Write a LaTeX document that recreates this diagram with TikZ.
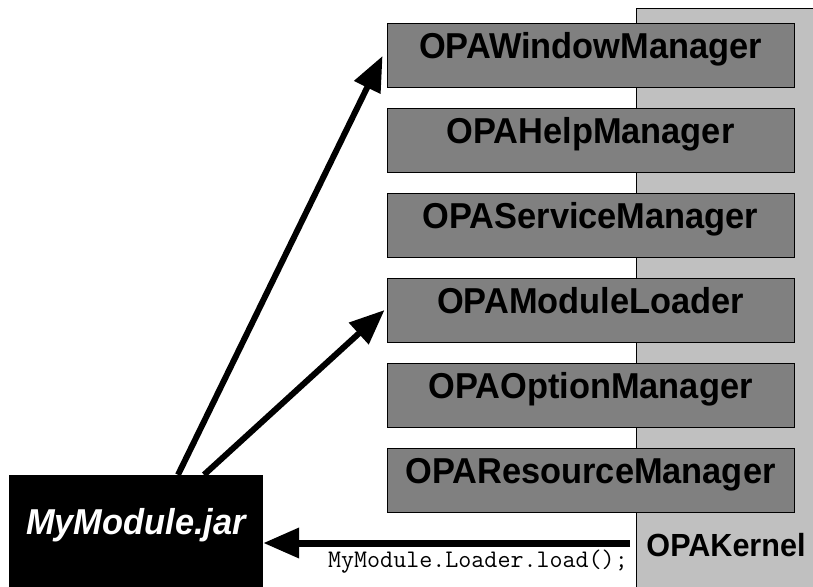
\documentclass[tikz,border=0pt]{standalone}
\usepackage{fontspec}
\setmainfont{Liberation Sans}
\newfontfamily\boxfont[FakeStretch=0.955]{Liberation Sans}
\usetikzlibrary{arrows.meta}

\definecolor{kernelgray}{HTML}{C0C0C0}
\definecolor{mgrgray}{HTML}{808080}

\tikzset{
  kernelcol/.style={draw=black, line width=1.2pt, fill=kernelgray,
    minimum width=190pt, minimum height=600pt, anchor=north west, inner sep=0pt},
  manager/.style={draw=black, line width=0.9pt, fill=mgrgray,
    minimum width=407pt, minimum height=64pt, inner sep=0pt,
    font=\boxfont\fontsize{36}{42}\selectfont\bfseries, text height=0.716em, text depth=0pt},
  jarbox/.style={fill=black, text=white, minimum width=254pt, minimum height=112pt,
    inner sep=0pt, font=\boxfont\fontsize{36}{42}\selectfont\bfseries\itshape,
    text height=0.716em, text depth=0pt},
  kernellabel/.style={font=\boxfont\fontsize{32}{38}\selectfont\bfseries, inner sep=0pt},
  codelabel/.style={font=\fontsize{25.3}{30}\selectfont\ttfamily, inner sep=0pt},
  callarrow/.style={line width=6pt, -{Triangle[length=35pt,width=28pt]}},
  loadarrow/.style={line width=7pt, -{Triangle[length=36pt,width=29pt]}},
}

\begin{document}
\begin{tikzpicture}[x=1pt, y=-1pt]
  \useasboundingbox (0,0) rectangle (813,586);

  % kernel column behind the managers
  \node[kernelcol] (col) at (636,8) {};

  % manager boxes
  \node[manager] (wm)  at (590.5,55)  {OPAWindowManager};
  \node[manager] (hm)  at (590.5,140) {OPAHelpManager};
  \node[manager] (sm)  at (590.5,225) {OPAServiceManager};
  \node[manager] (ml)  at (590.5,310) {OPAModuleLoader};
  \node[manager] (om)  at (590.5,395) {OPAOptionManager};
  \node[manager] (rm)  at (590.5,480) {OPAResourceManager};

  % kernel label
  \node[kernellabel, anchor=base] (kernel) at (726,556) {OPAKernel};

  % the module
  \node[jarbox] (jar) at (136,531) {MyModule.jar};

  % module calls into the kernel services
  \draw[callarrow] ([xshift=42pt]jar.north) -- ([xshift=-4pt,yshift=-1pt]wm.west);
  \draw[callarrow] ([xshift=68pt]jar.north) -- ([xshift=-2pt]ml.west);

  % kernel loads the module
  \coordinate (ldr) at (630,543);
  \draw[loadarrow] (ldr) -- (ldr -| jar.east);
  \node[codelabel, anchor=base east] (call) at (628,567) {MyModule.Loader.load();};
\end{tikzpicture}
\end{document}
